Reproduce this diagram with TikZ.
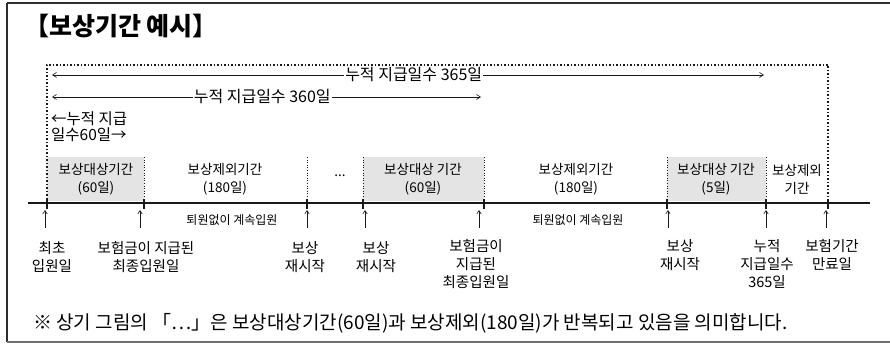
\documentclass[tikz,border=0pt]{standalone}
\usepackage{fontspec}
\setmainfont{Noto Sans CJK KR}
\usetikzlibrary{arrows.meta,positioning}
\definecolor{bkgray}{RGB}{228,228,228}
\definecolor{bkline}{RGB}{25,25,25}
\definecolor{bkframe}{RGB}{45,45,45}
\definecolor{bkbottom}{RGB}{110,110,110}
\tikzset{
  bkTitle/.style={anchor=west, inner sep=0pt,
                  font=\fontsize{25}{28}\selectfont\bfseries},
  bkSpan/.style={fill=white, inner sep=1pt, font=\fontsize{16}{18}\selectfont},
  bkShort/.style={anchor=north west, align=left, inner sep=0pt,
                  font=\fontsize{15.5}{16}\selectfont},
  bkPeriod/.style={align=center, inner sep=0pt,
                   font=\fontsize{13.5}{18}\selectfont},
  bkNote/.style={inner sep=0pt, font=\fontsize{12}{13}\selectfont},
  bkMark/.style={anchor=north, align=center, inner sep=0pt,
                 font=\fontsize{14.5}{18}\selectfont},
  bkFoot/.style={anchor=west, inner sep=0pt, font=\fontsize{19}{21}\selectfont},
  bkFill/.style={fill=bkgray},
  bkSep/.style={dotted, line width=0.6pt, draw=bkline},
  bkFrame/.style={dotted, line width=1.5pt, draw=bkline},
  bkSpanArrow/.style={{Straight Barb[length=4pt,width=5pt]}-{Straight Barb[length=4pt,width=5pt]},
                      line width=0.6pt, draw=bkline},
  bkUp/.style={-{Straight Barb[length=3.5pt,width=4.5pt]}, line width=0.6pt, draw=bkline},
  bkTick/.style={line width=1.3pt, draw=bkline},
  bkAxis/.style={line width=1.6pt, draw=bkline}
}
\begin{document}
\begin{tikzpicture}[x=1pt,y=-1pt]
  \useasboundingbox (0,0) rectangle (890,344);
  \draw[line width=2pt, draw=bkframe] (890,3) -- (7,3);
  \draw[line width=1.3pt, draw=bkframe] (7,3) -- (7,342);
  \draw[line width=1.6pt, draw=bkbottom] (7,342) -- (890,342);

  \node[bkTitle] (title) at (24,26) {【보상기간 예시】};

  \fill[bkFill] (47,157) rectangle (144,201);
  \fill[bkFill] (363,157) rectangle (484,201);
  \fill[bkFill] (667,157) rectangle (766,201);
  \foreach \x in {144,307,363,484,667,766}
    \draw[bkSep] (\x,157) -- (\x,203);
  \draw[bkFrame] (47,203) -- (47,65) -- (828,65) -- (828,203);

  \coordinate (s365L) at (52,75);
  \coordinate (s365R) at (764,75);
  \coordinate (s360L) at (52,97);
  \coordinate (s360R) at (481,97);
  \draw[bkSpanArrow] (s365L) -- node[bkSpan, pos=0.508] (span365) {누적 지급일수 365일} (s365R);
  \draw[bkSpanArrow] (s360L) -- node[bkSpan, pos=0.49] (span360) {누적 지급일수 360일} (s360R);
  \node[bkShort] (span60) at (51,111) {←누적 지급\\일수60일→};

  \node[bkPeriod] (pay1) at (96,179) {보상대상기간\\(60일)};
  \node[bkPeriod] (skip1) at (225,179) {보상제외기간\\(180일)};
  \node[bkPeriod] (dots) at (340,176) {...};
  \node[bkPeriod] (pay2) at (423,179) {보상대상 기간\\(60일)};
  \node[bkPeriod] (skip2) at (576,179) {보상제외기간\\(180일)};
  \node[bkPeriod] (pay3) at (716,179) {보상대상 기간\\(5일)};
  \node[bkPeriod] (skip3) at (797,179) {보상제외\\기간};

  \draw[bkAxis] (28,203) -- (870,203);
  \foreach \x in {47,144,307,363,484,667,766,828}
    \draw[bkTick] (\x,199) -- (\x,209);

  \node[bkNote] (stay1) at (232,220) {퇴원없이 계속입원};
  \node[bkNote] (stay2) at (578,220) {퇴원없이 계속입원};

  \foreach \x [count=\i] in {45,140,307,365,479,668,766,826}
    \coordinate (up\i) at (\x,210);
  \foreach \i in {1,...,8}
    \draw[bkUp] ([yshift=-18pt]up\i) -- (up\i);

  \node[bkMark] (mark1) at (52,241) {최초\\입원일};
  \node[bkMark] (mark2) at (146,241) {보험금이 지급된\\최종입원일};
  \node[bkMark] (mark3) at (305,241) {보상\\재시작};
  \node[bkMark] (mark4) at (376,241) {보상\\재시작};
  \node[bkMark] (mark5) at (476,239) {보험금이\\지급된\\최종입원일};
  \node[bkMark] (mark6) at (680,239) {보상\\재시작};
  \node[bkMark] (mark7) at (767,239) {누적\\지급일수\\365일};
  \node[bkMark] (mark8) at (832,239) {보험기간\\만료일};

  \node[bkFoot] (foot) at (33,323) {※ 상기 그림의 「…」은 보상대상기간(60일)과 보상제외(180일)가 반복되고 있음을 의미합니다.};
\end{tikzpicture}
\end{document}
